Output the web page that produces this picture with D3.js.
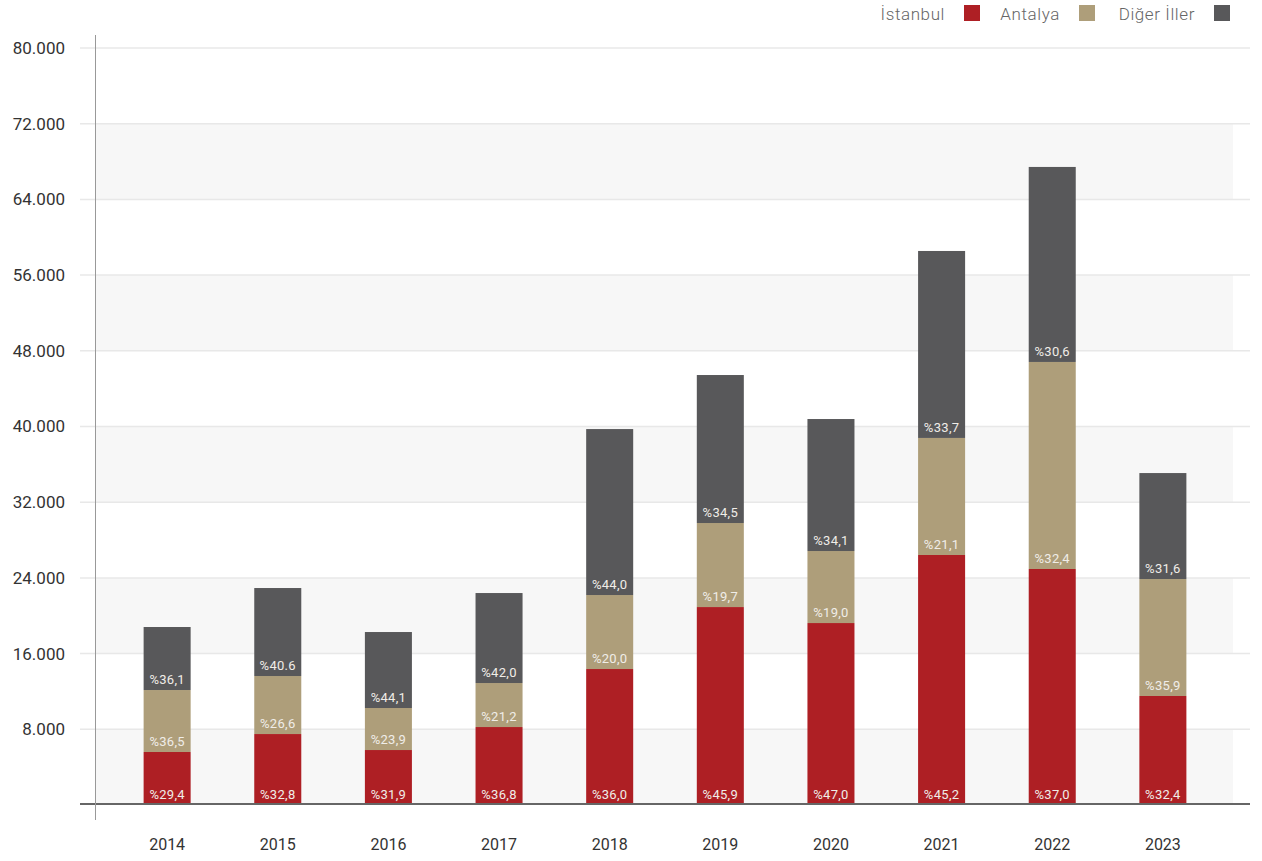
<!DOCTYPE html>
<html lang="tr">
<head>
<meta charset="utf-8">
<script src="https://cdn.jsdelivr.net/npm/d3@7"></script>
<style>
    body { margin: 0; background: #fff; }
    svg text { font-family: Roboto, "DejaVu Sans", sans-serif; }
    .y-axis .domain, .x-axis .domain { display: none; }
</style>
</head>
<body>
<div class="chart"></div>
<script>
// yearly values
const years = ['2014', '2015', '2016', '2017', '2018', '2019', '2020', '2021', '2022', '2023'];
const istanbul = [5600, 7500, 5810, 8240, 14370, 20920, 19230, 26420, 24940, 11520];
const antalya = [6550, 6130, 4440, 4650, 7820, 8880, 7610, 12370, 21880, 12360];
const diger = [6660, 9300, 8030, 9510, 17540, 15640, 13950, 19760, 20610, 11200];

// printed share labels
const istanbulLabels = ['%29,4', '%32,8', '%31,9', '%36,8', '%36,0', '%45,9', '%47,0', '%45,2', '%37,0', '%32,4'];
const antalyaLabels = ['%36,5', '%26,6', '%23,9', '%21,2', '%20,0', '%19,7', '%19,0', '%21,1', '%32,4', '%35,9'];
const digerLabels = ['%36,1', '%40.6', '%44,1', '%42,0', '%44,0', '%34,5', '%34,1', '%33,7', '%30,6', '%31,6'];

const seriesNames = ['İstanbul', 'Antalya', 'Diğer İller'];
const colors = ['#ae1f24', '#ae9e7a', '#58585a'];
const yTicks = [8000, 16000, 24000, 32000, 40000, 48000, 56000, 64000, 72000, 80000];

const width = 1262;
const height = 861;

const svg = d3.select('.chart')
    .append('svg')
    .attr('width', width)
    .attr('height', height);

const x = d3.scaleBand()
    .domain(years)
    .range([80, 1250])
    .padding(0.575);

const y = d3.scaleLinear()
    .domain([0, 80000])
    .range([805, 48]);

const trFormat = d3.formatLocale({ decimal: ',', thousands: '.', grouping: [3], currency: ['', ''] }).format(',');

// alternating background bands
const bands = yTicks.filter((d, i) => i % 2 === 0).map(d => d - 8000);
svg.append('g')
    .selectAll('rect')
    .data(bands)
    .enter()
    .append('rect')
    .attr('x', 95)
    .attr('width', 1233 - 95)
    .attr('y', d => y(d + 8000))
    .attr('height', d => y(d) - y(d + 8000))
    .attr('fill', '#f7f7f7');

// gridlines
svg.append('g')
    .selectAll('line')
    .data(yTicks)
    .enter()
    .append('line')
    .attr('x1', 80)
    .attr('x2', 1250)
    .attr('y1', d => y(d))
    .attr('y2', d => y(d))
    .attr('stroke', '#e8e8e8')
    .attr('stroke-width', 1.5);

// y axis labels
svg.append('g')
    .attr('class', 'y-axis')
    .attr('transform', 'translate(80,0)')
    .call(d3.axisLeft(y)
        .tickValues(yTicks)
        .tickSize(0)
        .tickPadding(15)
        .tickFormat(trFormat))
    .selectAll('text')
    .attr('font-size', 17)
    .attr('fill', '#333');

// stacked bars
const table = years.map((year, i) => ({
    year,
    istanbul: istanbul[i],
    antalya: antalya[i],
    diger: diger[i],
}));
const keys = ['istanbul', 'antalya', 'diger'];
const labelSets = [istanbulLabels, antalyaLabels, digerLabels];
const stack = d3.stack().keys(keys)(table);

const layers = svg.append('g')
    .selectAll('g')
    .data(stack)
    .enter()
    .append('g')
    .attr('fill', (d, i) => colors[i]);

layers.selectAll('rect')
    .data(d => d)
    .enter()
    .append('rect')
    .attr('x', d => x(d.data.year))
    .attr('width', x.bandwidth())
    .attr('y', d => y(d[1]))
    .attr('height', d => y(d[0]) - y(d[1]));

// share labels at the bottom of each segment
stack.forEach((layer, k) => {
    svg.append('g')
        .selectAll('text')
        .data(layer)
        .enter()
        .append('text')
        .attr('x', d => x(d.data.year) + x.bandwidth() / 2)
        .attr('y', d => y(d[0]) - 6)
        .attr('text-anchor', 'middle')
        .attr('font-size', 13)
        .attr('letter-spacing', 0.3)
        .attr('fill', '#f0ede8')
        .text((d, i) => labelSets[k][i]);
});

// baseline and vertical axis line
svg.append('line')
    .attr('x1', 80)
    .attr('x2', 1250)
    .attr('y1', y(0) - 1)
    .attr('y2', y(0) - 1)
    .attr('stroke', '#666')
    .attr('stroke-width', 2);

svg.append('line')
    .attr('x1', 95.5)
    .attr('x2', 95.5)
    .attr('y1', 35)
    .attr('y2', 820)
    .attr('stroke', '#999')
    .attr('stroke-width', 1);

// x axis labels
svg.append('g')
    .attr('class', 'x-axis')
    .attr('transform', 'translate(0,834)')
    .call(d3.axisBottom(x).tickSize(0).tickPadding(5))
    .selectAll('text')
    .attr('font-size', 16)
    .attr('fill', '#333');

// legend: label then swatch
const legendX = [964, 1079, 1214];
const legend = svg.append('g')
    .selectAll('g')
    .data(seriesNames)
    .enter()
    .append('g')
    .attr('transform', (d, i) => `translate(${legendX[i]}, 5)`);

legend.append('rect')
    .attr('width', 16)
    .attr('height', 16)
    .attr('fill', (d, i) => colors[i]);

legend.append('text')
    .attr('x', -19)
    .attr('y', 15)
    .attr('text-anchor', 'end')
    .attr('font-size', 17)
    .attr('font-weight', 300)
    .attr('letter-spacing', 0.6)
    .attr('fill', '#666')
    .text(d => d);
</script>
</body>
</html>
